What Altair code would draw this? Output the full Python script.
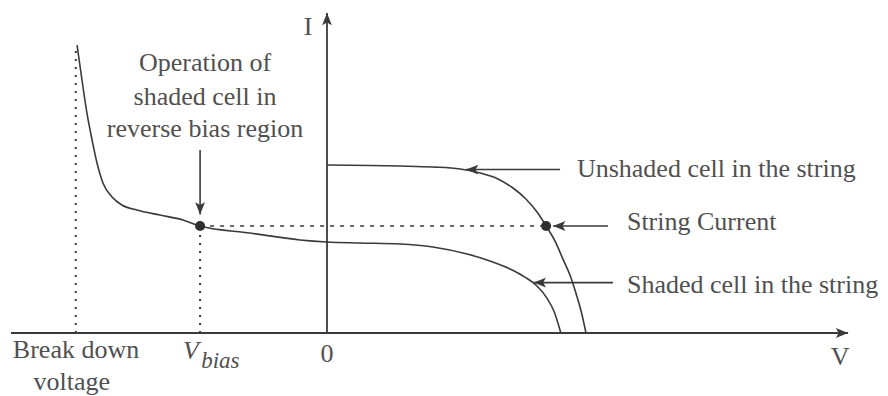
import altair as alt
import pandas as pd

# I-V characteristics: V in units of the unshaded open-circuit voltage,
# I in units of the unshaded short-circuit current.
unshaded_v = [0.0, 0.282, 0.409, 0.514, 0.591, 0.660, 0.718, 0.768, 0.811, 0.846,
              0.880, 0.911, 0.938, 0.961, 0.981, 1.0]
unshaded_i = [1.0, 0.994, 0.988, 0.976, 0.952, 0.917, 0.863, 0.798, 0.720, 0.637,
              0.548, 0.440, 0.345, 0.238, 0.131, 0.0]

shaded_v = [-0.965, -0.946, -0.927, -0.907, -0.888, -0.865, -0.830, -0.792, -0.734,
            -0.645, -0.556, -0.490, -0.297, -0.104, 0.0, 0.127, 0.282, 0.409,
            0.541, 0.629, 0.707, 0.764, 0.811, 0.849, 0.876, 0.903]
shaded_i = [1.714, 1.506, 1.310, 1.149, 1.012, 0.893, 0.810, 0.762, 0.732,
            0.702, 0.673, 0.637, 0.595, 0.554, 0.542, 0.536, 0.530, 0.512,
            0.470, 0.429, 0.381, 0.333, 0.280, 0.208, 0.131, 0.0]

string_current = 0.637
v_bias = -0.490
v_string = 0.846
v_breakdown = -0.970
i_breakdown_top = 1.714

# annotation pointers: tail (v, i) -> tip (v2, i2)
ptr_v = [-0.490, 0.900, 1.085, 1.104]
ptr_i = [1.089, 0.973, 0.637, 0.300]
ptr_v2 = [-0.490, 0.537, 0.873, 0.798]
ptr_i2 = [0.705, 0.973, 0.637, 0.300]
ptr_dir = ["down", "left", "left", "left"]

# axis extents
v_axis_start, v_axis_end = -1.22, 2.012
i_axis_end = 1.905

# labels
side_labels = ["Unshaded cell in the string", "String Current", "Shaded cell in the string"]
side_v = [0.965, 1.158, 1.158]
side_i = [0.976, 0.661, 0.286]

note_lines = ["Operation of", "shaded cell in", "reverse bias region"]
note_v = [-0.471, -0.471, -0.471]
note_i = [1.607, 1.405, 1.214]

axis_labels = ["0", "V", "I", "Break down", "voltage"]
axis_label_v = [0.0, 1.981, -0.073, -0.969, -0.985]
axis_label_i = [-0.127, -0.143, 1.822, -0.101, -0.290]

# canvas geometry
W, H = 888, 396
X0_PX, Y0_PX = 327, 333
PX_PER_V, PX_PER_I = 259, 168

xs = alt.Scale(domain=[-X0_PX / PX_PER_V, (W - X0_PX) / PX_PER_V], nice=False, zero=False)
ys = alt.Scale(domain=[-(H - Y0_PX) / PX_PER_I, Y0_PX / PX_PER_I], nice=False, zero=False)

INK = "#3a3a3a"
TEXT = "#505050"
FONT = "Liberation Serif"
FS = 26

# arrowhead outlines with the tip at the origin
HEADS = {
    "left": "M0,0L2,-0.8L1.55,0L2,0.8Z",
    "right": "M0,0L-2,-0.8L-1.55,0L-2,0.8Z",
    "up": "M0,0L-0.8,2L0,1.55L0.8,2Z",
    "down": "M0,0L-0.8,-2L0,-1.55L0.8,-2Z",
}


def X(f):
    return alt.X(f, type="quantitative", scale=xs, axis=None)


def Y(f):
    return alt.Y(f, type="quantitative", scale=ys, axis=None)


curves = pd.DataFrame({
    "v": unshaded_v + shaded_v,
    "i": unshaded_i + shaded_i,
    "cell": ["unshaded"] * len(unshaded_v) + ["shaded"] * len(shaded_v),
    "k": list(range(len(unshaded_v))) + list(range(len(shaded_v))),
})

axes = pd.DataFrame({"v": [v_axis_start, 0.0], "v2": [v_axis_end, 0.0],
                     "i": [0.0, 0.0], "i2": [0.0, i_axis_end]})
axis_heads = pd.DataFrame({"v": [v_axis_end, 0.0], "i": [0.0, i_axis_end],
                           "head": [HEADS["right"], HEADS["up"]]})

dotted = pd.DataFrame({"v": [v_breakdown, v_bias], "v2": [v_breakdown, v_bias],
                       "i": [0.0, 0.0], "i2": [i_breakdown_top, string_current]})
dashed = pd.DataFrame({"v": [v_bias], "v2": [v_string],
                       "i": [string_current], "i2": [string_current]})

pointers = pd.DataFrame({"v": ptr_v, "i": ptr_i, "v2": ptr_v2, "i2": ptr_i2,
                         "head": [HEADS[d] for d in ptr_dir]})

dots = pd.DataFrame({"v": [v_bias, v_string], "i": [string_current, string_current]})

curve_layer = alt.Chart(curves).mark_line(
    interpolate="monotone", color=INK, strokeWidth=1.6
).encode(x=X("v"), y=Y("i"), detail="cell:N", order="k:Q")

axis_layer = alt.Chart(axes).mark_rule(color=INK, strokeWidth=1.8).encode(
    x=X("v"), x2="v2", y=Y("i"), y2="i2"
)
axis_head_layer = alt.Chart(axis_heads).mark_point(
    filled=True, size=150, color=INK, opacity=1, strokeWidth=0
).encode(x=X("v"), y=Y("i"), shape=alt.Shape("head:N", scale=None))

dotted_layer = alt.Chart(dotted).mark_rule(color=INK, strokeWidth=2, strokeDash=[2, 6]).encode(
    x=X("v"), x2="v2", y=Y("i"), y2="i2"
)
dashed_layer = alt.Chart(dashed).mark_rule(color=INK, strokeWidth=1.6, strokeDash=[4, 6]).encode(
    x=X("v"), x2="v2", y=Y("i"), y2="i2"
)

pointer_layer = alt.Chart(pointers).mark_rule(color=INK, strokeWidth=1.6).encode(
    x=X("v"), x2="v2", y=Y("i"), y2="i2"
)
pointer_head_layer = alt.Chart(pointers).mark_point(
    filled=True, size=150, color=INK, opacity=1, strokeWidth=0
).encode(x=X("v2"), y=Y("i2"), shape=alt.Shape("head:N", scale=None))

dot_layer = alt.Chart(dots).mark_circle(size=100, color="#2e2e2e", opacity=1).encode(
    x=X("v"), y=Y("i")
)

side_text = alt.Chart(pd.DataFrame({"v": side_v, "i": side_i, "t": side_labels})).mark_text(
    align="left", baseline="middle", font=FONT, fontSize=FS, color=TEXT
).encode(x=X("v"), y=Y("i"), text="t:N")

note_text = alt.Chart(pd.DataFrame({"v": note_v, "i": note_i, "t": note_lines})).mark_text(
    align="center", baseline="middle", font=FONT, fontSize=FS, color=TEXT
).encode(x=X("v"), y=Y("i"), text="t:N")

axis_text = alt.Chart(pd.DataFrame({"v": axis_label_v, "i": axis_label_i, "t": axis_labels})).mark_text(
    align="center", baseline="middle", font=FONT, fontSize=FS, color=TEXT
).encode(x=X("v"), y=Y("i"), text="t:N")

vbias_main = alt.Chart(pd.DataFrame({"v": [-0.525], "i": [-0.105], "t": ["V"]})).mark_text(
    align="center", baseline="middle", font=FONT, fontSize=FS, fontStyle="italic", color=TEXT
).encode(x=X("v"), y=Y("i"), text="t:N")
vbias_sub = alt.Chart(pd.DataFrame({"v": [-0.486], "i": [-0.165], "t": ["bias"]})).mark_text(
    align="left", baseline="middle", font=FONT, fontSize=23, fontStyle="italic", color=TEXT
).encode(x=X("v"), y=Y("i"), text="t:N")

chart = alt.layer(
    axis_layer, dotted_layer, dashed_layer, curve_layer,
    pointer_layer, pointer_head_layer, axis_head_layer, dot_layer,
    side_text, note_text, axis_text, vbias_main, vbias_sub,
).properties(
    width=W, height=H, padding=0, autosize=alt.AutoSizeParams(type="none"),
    background="white",
).configure_view(stroke=None)

chart.save("out.html", embed_options={"renderer": "svg", "actions": False})
